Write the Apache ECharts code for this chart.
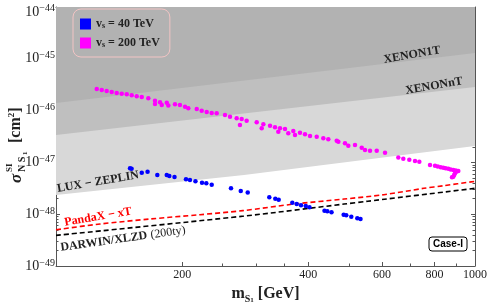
<!DOCTYPE html>
<html><head><meta charset="utf-8">
<script src="https://cdn.jsdelivr.net/npm/echarts@6/dist/echarts.min.js"></script>
<style>html,body{margin:0;padding:0;background:#fff}#c{width:488px;height:308px}</style>
</head><body><div id="c"></div>
<script>
// ---- data (sigma in cm^2, mass in GeV) ----
const xTickLabels = [200, 400, 600, 800, 1000];
const xMinorTicks = [250, 300, 350, 500, 700, 900];
const yTickLabels = [1e-49, 1e-48, 1e-47, 1e-46, 1e-45, 1e-44];

const xenon1T = [[100, 1.40e-46], [1000, 1.29e-45]];
const xenonNT = [[100, 3.38e-47], [1000, 2.86e-46]];
const luxZeplin = [[100, 2.35e-48], [281, 5.71e-48], [703, 1.45e-47], [1000, 2.07e-47]];
const pandaXxT = [[100, 5.0e-49], [127.4, 6.47e-49], [167.6, 8.07e-49], [220.6, 9.78e-49], [279, 1.17e-48],
  [370, 1.57e-48], [487, 1.96e-48], [606, 2.38e-48], [755, 3.16e-48], [843, 3.55e-48], [1000, 4.31e-48]];
const darwin = [[100, 3.9e-49], [281, 9.2e-49], [487, 1.57e-48], [555, 1.78e-48], [1000, 3.16e-48]];

const vs40 = [[150.2,7.69e-48],[151.5,7.55e-48],[160.2,6.32e-48],[165.4,6.61e-48],[174.5,5.71e-48],[183.8,5.71e-48],
  [186.4,5.46e-48],[191.8,5.22e-48],[204.3,4.72e-48],[208.8,4.57e-48],[215.2,4.31e-48],[223.1,4.06e-48],[228.4,3.95e-48],
  [235.3,3.70e-48],[261.6,3.16e-48],[276.0,2.81e-48],[286.8,2.62e-48],[322.9,2.12e-48],[333.7,1.99e-48],[340.0,1.90e-48],
  [366.4,1.66e-48],[375.4,1.57e-48],[384.4,1.49e-48],[394.5,1.44e-48],[402.7,1.36e-48],[437.3,1.17e-48],[444.1,1.14e-48],
  [454.5,1.09e-48],[485.9,9.73e-49],[492.9,9.53e-49],[506.7,8.95e-49],[523.7,8.37e-49],[533.0,8.07e-49]];

const vs200 = [[125.1,2.61e-46],[128.6,2.50e-46],[132.1,2.39e-46],[135.8,2.29e-46],[139.6,2.19e-46],[143.5,2.12e-46],
  [147.5,2.06e-46],[151.6,1.97e-46],[155.8,1.89e-46],[160.2,1.83e-46],[166.1,1.73e-46],[172.3,1.55e-46],[172.3,1.34e-46],
  [177.1,1.45e-46],[178.8,1.28e-46],[183.8,1.42e-46],[185.4,1.26e-46],[192.3,1.32e-46],[197.6,1.28e-46],[203.2,1.19e-46],
  [206.9,1.11e-46],[216.7,1.07e-46],[222.7,9.95e-47],[228.9,9.40e-47],[235.3,8.99e-47],[241.8,8.87e-47],[253.1,8.22e-47],
  [260.2,7.62e-47],[269.9,7.10e-47],[277.4,6.89e-47],[274.8,5.27e-47],[285.1,6.38e-47],[301.3,5.94e-47],[312.5,5.44e-47],
  [309.7,4.55e-47],[324.2,5.11e-47],[333.2,4.76e-47],[342.5,4.55e-47],[339.3,3.92e-47],[352.0,4.42e-47],[358.4,3.65e-47],
  [368.4,4.04e-47],[371.9,3.38e-47],[382.2,3.74e-47],[392.9,3.48e-47],[403.9,3.23e-47],[419.0,3.13e-47],[434.5,2.92e-47],
  [446.6,2.79e-47],[467.7,2.62e-47],[471.9,2.51e-47],[489.5,2.34e-47],[498.5,2.10e-47],[517.2,2.17e-47],[536.6,1.92e-47],
  [546.4,1.73e-47],[561.6,1.68e-47],[582.7,1.68e-47],[609.9,1.54e-47],[656.1,1.25e-47],[674.4,1.18e-47],[697.0,1.13e-47],
  [719.2,1.06e-47],[736.4,1.03e-47],[780.9,8.91e-48],[802.6,8.64e-48],[815,8.3e-48],[828.2,8.04e-48],[840.2,7.90e-48],
  [851,7.7e-48],[863.6,7.56e-48],[875,7.3e-48],[887.6,7.13e-48],[900,7.0e-48],[912.3,6.82e-48],[900,6.5e-48],[896.0,6.16e-48],
  [892,5.7e-48],[887.6,5.30e-48],[881.4,5.15e-48]];

// ---- chart ----
// the y axis is plotted in units of 1e-49 cm^2 (ECharts rounds tiny numbers to 0)
const Y_UNIT = 1e-49;
const sc = arr => arr.map(p => [p[0], p[1] / Y_UNIT]);
const yMajor = yTickLabels.map(v => Math.round(v / Y_UNIT));
const yMinor = [];
for (let e = 0; e <= 4; e++) for (let k = 2; k <= 9; k++) yMinor.push(k * Math.pow(10, e));
const X_MIN = 100, X_MAX = 1000, Y_MIN = yMajor[0], Y_MAX = yMajor[yMajor.length - 1];

const serif = 'Liberation Serif';
const frame = '#555';
const ink = '#222';

function xAx(pos, ticks, len, showLine, extra) {
  return Object.assign({
    type: 'log', logBase: 10, min: X_MIN, max: X_MAX, position: pos,
    axisLine: {show: showLine, onZero: false, lineStyle: {color: frame, width: 1}},
    axisTick: {show: true, inside: true, length: len, customValues: ticks, lineStyle: {color: frame, width: 1}},
    axisLabel: {show: false},
    splitLine: {show: false}
  }, extra || {});
}
function yAx(pos, ticks, len, showLine, extra) {
  return Object.assign({
    type: 'log', logBase: 10, min: Y_MIN, max: Y_MAX, position: pos,
    axisLine: {show: showLine, onZero: false, lineStyle: {color: frame, width: 1}},
    axisTick: {show: true, inside: true, length: len, customValues: ticks, lineStyle: {color: frame, width: 1}},
    axisLabel: {show: false},
    splitLine: {show: false}
  }, extra || {});
}
function band(name, boundary, color) {
  const pts = sc(boundary);
  return {
    name: name, type: 'custom', z: 1, silent: true, data: [pts[0]],
    renderItem: (params, api) => {
      const poly = pts.map(p => api.coord(p));
      poly.push(api.coord([X_MAX, Y_MAX]), api.coord([X_MIN, Y_MAX]));
      return {type: 'polygon', shape: {points: poly}, style: {fill: color, stroke: null}};
    }
  };
}

const option = {
  animation: false,
  grid: {left: 56, right: 13, top: 7, bottom: 42, outerBoundsMode: 'none', containLabel: false},
  xAxis: [
    xAx('bottom', xTickLabels, 4, true, {
      axisLabel: {show: true, customValues: xTickLabels, formatter: v => String(Math.round(v)),
        margin: 3, fontFamily: serif, fontSize: 12, color: ink},
      name: '{m|m}{s|S}{o|1}{g| [GeV]}', nameLocation: 'middle', nameGap: 18,
      nameTextStyle: {rich: {
        m: {fontFamily: serif, fontWeight: 'bold', fontSize: 16, color: ink, lineHeight: 20, verticalAlign: 'middle'},
        g: {fontFamily: serif, fontWeight: 'bold', fontSize: 16, color: ink, lineHeight: 20, verticalAlign: 'middle'},
        s: {fontFamily: serif, fontWeight: 'bold', fontSize: 10, color: ink, lineHeight: 11, verticalAlign: 'bottom'},
        o: {fontFamily: serif, fontWeight: 'bold', fontSize: 7, color: ink, lineHeight: 7, verticalAlign: 'bottom'}
      }}
    }),
    xAx('bottom', xMinorTicks, 2.5, false),
    xAx('top', xTickLabels, 4, true),
    xAx('top', xMinorTicks, 2.5, false)
  ],
  yAxis: [
    yAx('left', yMajor, 4, true, {
      axisLabel: {show: true, customValues: yMajor, margin: 1,
        formatter: v => {
          const ex = '\u2212' + Math.abs(Math.round(Math.log10(v * Y_UNIT)));
          return v >= Y_MAX ? '{bt|10}{st|' + ex + '}' : '{b|10}{s|' + ex + '}';
        },
        rich: {
          b: {fontFamily: serif, fontSize: 14, color: ink, lineHeight: 16, verticalAlign: 'middle'},
          s: {fontFamily: serif, fontSize: 10, color: ink, lineHeight: 10, verticalAlign: 'top'},
          bt: {fontFamily: serif, fontSize: 14, color: ink, lineHeight: 24, verticalAlign: 'bottom'},
          st: {fontFamily: serif, fontSize: 10, color: ink, lineHeight: 10, verticalAlign: 'bottom', padding: [0, 0, 6, 0]}
        }}
    }),
    yAx('left', yMinor, 2.5, false),
    yAx('right', yMajor, 4, true),
    yAx('right', yMinor, 2.5, false)
  ],
  legend: {
    data: [{name: 'vs40', icon: 'rect'}, {name: 'vs200', icon: 'rect'}],
    orient: 'vertical', left: 73, top: 9,
    itemWidth: 11, itemHeight: 11, itemGap: 7,
    padding: [9, 10, 8, 7],
    borderColor: '#f2c4c4', borderWidth: 1, borderRadius: 8, backgroundColor: 'transparent',
    formatter: n => n === 'vs40' ? '{v|v}{s|s}{t| = 40 TeV}' : '{v|v}{s|s}{t| = 200 TeV}',
    textStyle: {rich: {
      v: {fontFamily: serif, fontWeight: 'bold', fontSize: 12, color: ink, lineHeight: 12, verticalAlign: 'middle'},
      t: {fontFamily: serif, fontWeight: 'bold', fontSize: 12, color: ink, lineHeight: 12, verticalAlign: 'middle'},
      s: {fontFamily: serif, fontWeight: 'bold', fontSize: 8, color: ink, lineHeight: 8, verticalAlign: 'bottom'}
    }}
  },
  series: [
    band('LZ', luxZeplin, '#d8d8d8'),
    band('XnT', xenonNT, '#bfbfbf'),
    band('X1T', xenon1T, '#b2b2b2'),
    {name: 'PandaX', type: 'line', data: sc(pandaXxT), z: 3, silent: true, showSymbol: false, symbol: 'none', smooth: 0.3,
      lineStyle: {color: '#ff0000', width: 1.6, type: [5, 3]}},
    {name: 'DARWIN', type: 'line', data: sc(darwin), z: 3, silent: true, showSymbol: false, symbol: 'none', smooth: 0.3,
      lineStyle: {color: '#000000', width: 1.6, type: [5, 3]}},
    {name: 'vs40', type: 'scatter', data: sc(vs40), z: 5, symbolSize: 4.5, itemStyle: {color: '#0000ff', opacity: 1}},
    {name: 'vs200', type: 'scatter', data: sc(vs200), z: 5, symbolSize: 4.5, itemStyle: {color: '#ff00ff', opacity: 1}}
  ],
  graphic: [
    {type: 'text', x: 412, y: 55, rotation: 0.17, z: 100, style: {text: 'XENON1T', font: 'bold 12px "Liberation Serif"', fill: ink, align: 'center', verticalAlign: 'middle'}},
    {type: 'text', x: 434, y: 86, rotation: 0.17, z: 100, style: {text: 'XENONnT', font: 'bold 12px "Liberation Serif"', fill: ink, align: 'center', verticalAlign: 'middle'}},
    {type: 'text', x: 98, y: 182, rotation: 0.17, z: 100, style: {text: 'LUX \u2212 ZEPLIN', font: 'bold 12px "Liberation Serif"', fill: ink, align: 'center', verticalAlign: 'middle'}},
    {type: 'text', x: 98, y: 217, rotation: 0.17, z: 100, style: {text: 'PandaX \u2212 xT', font: 'bold 12px "Liberation Serif"', fill: '#ff0000', align: 'center', verticalAlign: 'middle'}},
    {type: 'text', x: 123, y: 239, rotation: 0.14, z: 100, style: {text: '{b|DARWIN/XLZD} {n|(200ty)}', align: 'center', verticalAlign: 'middle',
      rich: {b: {font: 'bold 12px "Liberation Serif"', fill: ink}, n: {font: '12px "Liberation Serif"', fill: ink}}}},
    {type: 'group', z: 100, children: [
      {type: 'rect', shape: {x: 429, y: 237, width: 38, height: 14, r: 3}, style: {fill: '#fff', stroke: '#000', lineWidth: 1}, z: 100},
      {type: 'text', x: 448, y: 244.5, z: 101, style: {text: 'Case-I', font: 'bold 10px "Liberation Sans"', fill: '#000', align: 'center', verticalAlign: 'middle'}}
    ]},
    {type: 'group', x: 16, y: 137, rotation: Math.PI / 2, z: 100, children: [
      {type: 'text', x: -46, y: 1, style: {text: '\u03c3', font: 'bold italic 17px "Liberation Serif"', fill: ink, align: 'left', verticalAlign: 'middle'}},
      {type: 'text', x: -35, y: -6, style: {text: 'SI', font: 'bold 9px "Liberation Serif"', fill: ink, align: 'left', verticalAlign: 'middle'}},
      {type: 'text', x: -35, y: 6, style: {text: 'N S', font: 'bold 10px "Liberation Serif"', fill: ink, align: 'left', verticalAlign: 'middle'}},
      {type: 'text', x: -18, y: 9, style: {text: '1', font: 'bold 7px "Liberation Serif"', fill: ink, align: 'left', verticalAlign: 'middle'}},
      {type: 'text', x: -6, y: 0, style: {text: '{a|[cm}{b|2}{a|]}', align: 'left', verticalAlign: 'middle',
        rich: {a: {font: 'bold 16px "Liberation Serif"', fill: ink, lineHeight: 18, verticalAlign: 'middle'},
               b: {font: 'bold 9px "Liberation Serif"', fill: ink, lineHeight: 9, verticalAlign: 'top'}}}}
    ]}
  ]
};
const chart = echarts.init(document.getElementById('c'));
chart.setOption(option);
</script>
</body></html>
